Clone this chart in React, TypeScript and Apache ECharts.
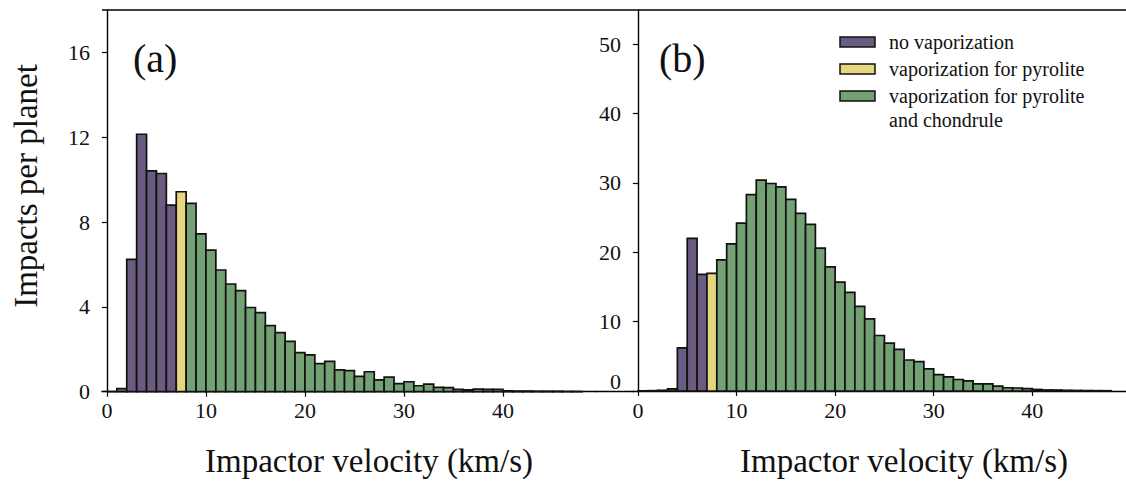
import React, { useEffect, useRef } from "react";
import * as echarts from "echarts";

// Bin i spans [i, i+1) km/s
const panelAValues = [0, 0.15, 6.24, 12.14, 10.41, 10.29, 8.8, 9.43, 8.88, 7.44, 6.68, 5.74, 5.08, 4.77, 3.97, 3.73, 3.12, 2.79, 2.37, 1.84, 1.74, 1.32, 1.43, 1.03, 0.99, 0.72, 0.94, 0.56, 0.69, 0.38, 0.47, 0.28, 0.36, 0.2, 0.19, 0.11, 0.09, 0.12, 0.11, 0.11, 0.04, 0.03, 0.03, 0.02, 0.02, 0.02, 0.01, 0.01];
const panelBValues = [0.02, 0.05, 0.1, 0.3, 6.2, 22.0, 16.8, 16.95, 18.9, 21.2, 24.2, 28.3, 30.4, 29.9, 29.4, 27.6, 25.6, 24.0, 20.6, 17.9, 15.7, 14.2, 12.2, 10.4, 8.0, 6.9, 6.0, 4.47, 4.23, 3.19, 2.37, 2.04, 1.66, 1.47, 1.04, 1.04, 0.71, 0.47, 0.43, 0.33, 0.22, 0.15, 0.14, 0.1, 0.08, 0.06, 0.05, 0.04];
const yellowBin = 7; // bins below are "no vaporization", above are green
const xTicks = [0, 10, 20, 30, 40];
const yTicksA = [0, 4, 8, 12, 16];
const yTicksB = [10, 20, 30, 40, 50];
const yLabelsB = [0, 10, 20, 30, 40, 50];
const seriesNames = ["no vaporization", "vaporization for pyrolite", "vaporization for pyrolite\nand chondrule"];
const colors = ["#6a5c80", "#e6d680", "#74a174"];

const FONT = "'Liberation Serif', 'DejaVu Serif', serif";

function splitBins(values: number[]) {
  const groups: number[][][] = [[], [], []];
  values.forEach((v, i) => {
    const g = i < yellowBin ? 0 : i === yellowBin ? 1 : 2;
    groups[g].push([i, i + 1, v]);
  });
  return groups;
}

function renderItem(params: any, api: any) {
  const x0 = api.value(0);
  const x1 = api.value(1);
  const y = api.value(2);
  const p0 = api.coord([x0, y]);
  const p1 = api.coord([x1, 0]);
  return {
    type: "rect",
    shape: { x: p0[0], y: p0[1], width: p1[0] - p0[0], height: p1[1] - p0[1] },
    style: { fill: api.visual("color"), stroke: "#111", lineWidth: 1.7 },
  };
}

export default function App() {
  const ref = useRef<HTMLDivElement>(null);
  useEffect(() => {
    if (!ref.current) return;
    const chart = echarts.init(ref.current, null, { renderer: "svg" });
    const gA = splitBins(panelAValues);
    const gB = splitBins(panelBValues);
    const axisLine = { show: true, lineStyle: { color: "#000", width: 1.4 } };
    const xAxisCommon = {
      type: "value",
      min: -0.5,
      max: 49.5,
      axisLine,
      splitLine: { show: false },
      axisTick: { show: true, length: 5, customValues: xTicks, lineStyle: { color: "#000", width: 1.2 } },
      axisLabel: { customValues: xTicks, fontFamily: FONT, fontSize: 22, color: "#111", margin: 8 },
    };
    const series: any[] = [];
    [gA, gB].forEach((groups, panel) => {
      groups.forEach((data, k) => {
        series.push({
          type: "custom",
          name: seriesNames[k],
          xAxisIndex: panel,
          yAxisIndex: panel,
          renderItem,
          itemStyle: { color: colors[k] },
          encode: { x: [0, 1], y: 2 },
          data,
        });
      });
    });
    const legendGraphics: any[] = [];
    const legendY = [42, 69, 96];
    seriesNames.forEach((name, k) => {
      legendGraphics.push({
        type: "rect",
        shape: { x: 840, y: legendY[k] - 5, width: 35, height: 10 },
        style: { fill: colors[k], stroke: "#111", lineWidth: 1.5 },
      });
      name.split("\n").forEach((line, j) => {
        legendGraphics.push({
          type: "text",
          x: 889,
          y: legendY[k] + j * 24,
          style: { text: line, font: `20px ${FONT}`, fill: "#111", textVerticalAlign: "middle" },
        });
      });
    });
    chart.setOption({
      animation: false,
      grid: [
        { left: 102, top: 10, width: 495, height: 381.7 },
        { left: 633, top: 10, width: 495, height: 381 },
      ],
      xAxis: [
        { ...xAxisCommon, gridIndex: 0 },
        { ...xAxisCommon, gridIndex: 1 },
      ],
      yAxis: [
        {
          type: "value",
          gridIndex: 0,
          min: 0,
          max: 18,
          axisLine,
          splitLine: { show: false },
          axisTick: { show: true, length: 5, customValues: yTicksA, lineStyle: { color: "#000", width: 1.2 } },
          axisLabel: { customValues: yTicksA, fontFamily: FONT, fontSize: 22, color: "#111", margin: 12 },
        },
        {
          type: "value",
          gridIndex: 1,
          min: 0,
          max: 54.9,
          axisLine,
          splitLine: { show: false },
          axisTick: { show: true, length: 5, customValues: yTicksB, lineStyle: { color: "#000", width: 1.2 } },
          axisLabel: {
            customValues: yLabelsB,
            fontFamily: FONT,
            fontSize: 22,
            color: "#111",
            margin: 12,
            formatter: (v: number) => (v === 0 ? "{z|0}" : String(v)),
            rich: { z: { fontFamily: FONT, fontSize: 22, color: "#111", padding: [0, 0, 20, 0] } },
          },
        },
      ],
      series,
      graphic: [
        { type: "line", shape: { x1: 102, y1: 10, x2: 1126, y2: 10 }, style: { stroke: "#000", lineWidth: 1.4 } },
        { type: "line", shape: { x1: 596, y1: 391.5, x2: 634, y2: 391.5 }, style: { stroke: "#000", lineWidth: 1.4 } },
        { type: "text", x: 133, y: 58, style: { text: "(a)", font: `40px ${FONT}`, fill: "#111", textVerticalAlign: "middle" } },
        { type: "text", x: 659, y: 58, style: { text: "(b)", font: `40px ${FONT}`, fill: "#111", textVerticalAlign: "middle" } },
        {
          type: "text",
          x: 369,
          y: 461,
          style: { text: "Impactor velocity (km/s)", font: `33px ${FONT}`, fill: "#111", textAlign: "center", textVerticalAlign: "middle" },
        },
        {
          type: "text",
          x: 904,
          y: 461,
          style: { text: "Impactor velocity (km/s)", font: `33px ${FONT}`, fill: "#111", textAlign: "center", textVerticalAlign: "middle" },
        },
        {
          type: "text",
          x: 26,
          y: 186,
          rotation: Math.PI / 2,
          style: { text: "Impacts per planet", font: `33px ${FONT}`, fill: "#111", textAlign: "center", textVerticalAlign: "middle" },
        },
        ...legendGraphics,
      ],
    });
    return () => chart.dispose();
  }, []);
  return (
    <div
      ref={ref}
      style={{ position: "absolute", left: 0, top: 0, width: 1126, height: 482, background: "#fff" }}
    />
  );
}
